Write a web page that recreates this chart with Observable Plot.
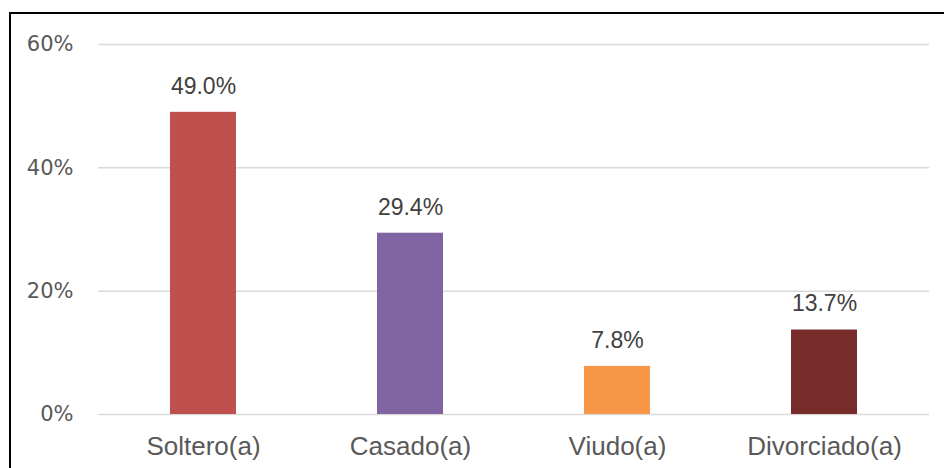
<!DOCTYPE html>
<html>
<head>
<meta charset="utf-8">
<script src="https://cdn.jsdelivr.net/npm/d3@7"></script>
<script src="https://cdn.jsdelivr.net/npm/@observablehq/plot@0.6"></script>
<style>
  html, body { margin: 0; padding: 0; background: #fff; width: 944px; height: 468px; overflow: hidden; }
  #wrap { position: relative; width: 944px; height: 468px; }
  #border { position: absolute; left: 9px; top: 12px; width: 1000px; height: 1000px; border-left: 2px solid #000; border-top: 2px solid #000; box-sizing: border-box; }
  #chart { position: absolute; left: 0; top: 0; }
</style>
</head>
<body>
<div id="wrap"><div id="border"></div><div id="chart"></div></div>
<script>
const categories = ["Soltero(a)", "Casado(a)", "Viudo(a)", "Divorciado(a)"];
const values = [0.490, 0.294, 0.078, 0.137];
const colors = ["#C0504D", "#8064A2", "#F79646", "#772C2A"];
const yTicks = [0, 0.2, 0.4, 0.6];

const data = categories.map((c, i) => ({ cat: c, value: values[i], color: colors[i] }));
const pct0 = d => Math.round(d * 100) + "%";

const chart = Plot.plot({
  width: 944,
  height: 468,
  marginTop: 44,
  marginBottom: 54,
  marginLeft: 98,
  marginRight: 15,
  style: { background: "transparent", overflow: "visible" },
  x: { domain: categories, paddingInner: 0.68, paddingOuter: 0.34, label: null },
  y: { domain: [0, 0.6], label: null },
  marks: [
    Plot.gridY(yTicks, { stroke: "#d9d9d9", strokeOpacity: 1, strokeWidth: 1.5 }),
    Plot.barY(data, { x: "cat", y: "value", fill: "color" }),
    Plot.text(data, { x: "cat", y: "value", text: d => (d.value * 100).toFixed(1) + "%", dy: -26, fill: "#404040", fontSize: 23, fontFamily: "Liberation Sans, Arial, sans-serif" }),
    Plot.axisY(yTicks, { tickSize: 0, tickPadding: 25, tickFormat: pct0, fill: "#595959", fontSize: 21, fontFamily: "DejaVu Sans, sans-serif", label: null }),
    Plot.axisX({ tickSize: 0, tickPadding: 22, fill: "#595959", fontSize: 26, fontFamily: "Liberation Sans, Arial, sans-serif", label: null })
  ]
});
document.getElementById("chart").appendChild(chart);
</script>
</body>
</html>
